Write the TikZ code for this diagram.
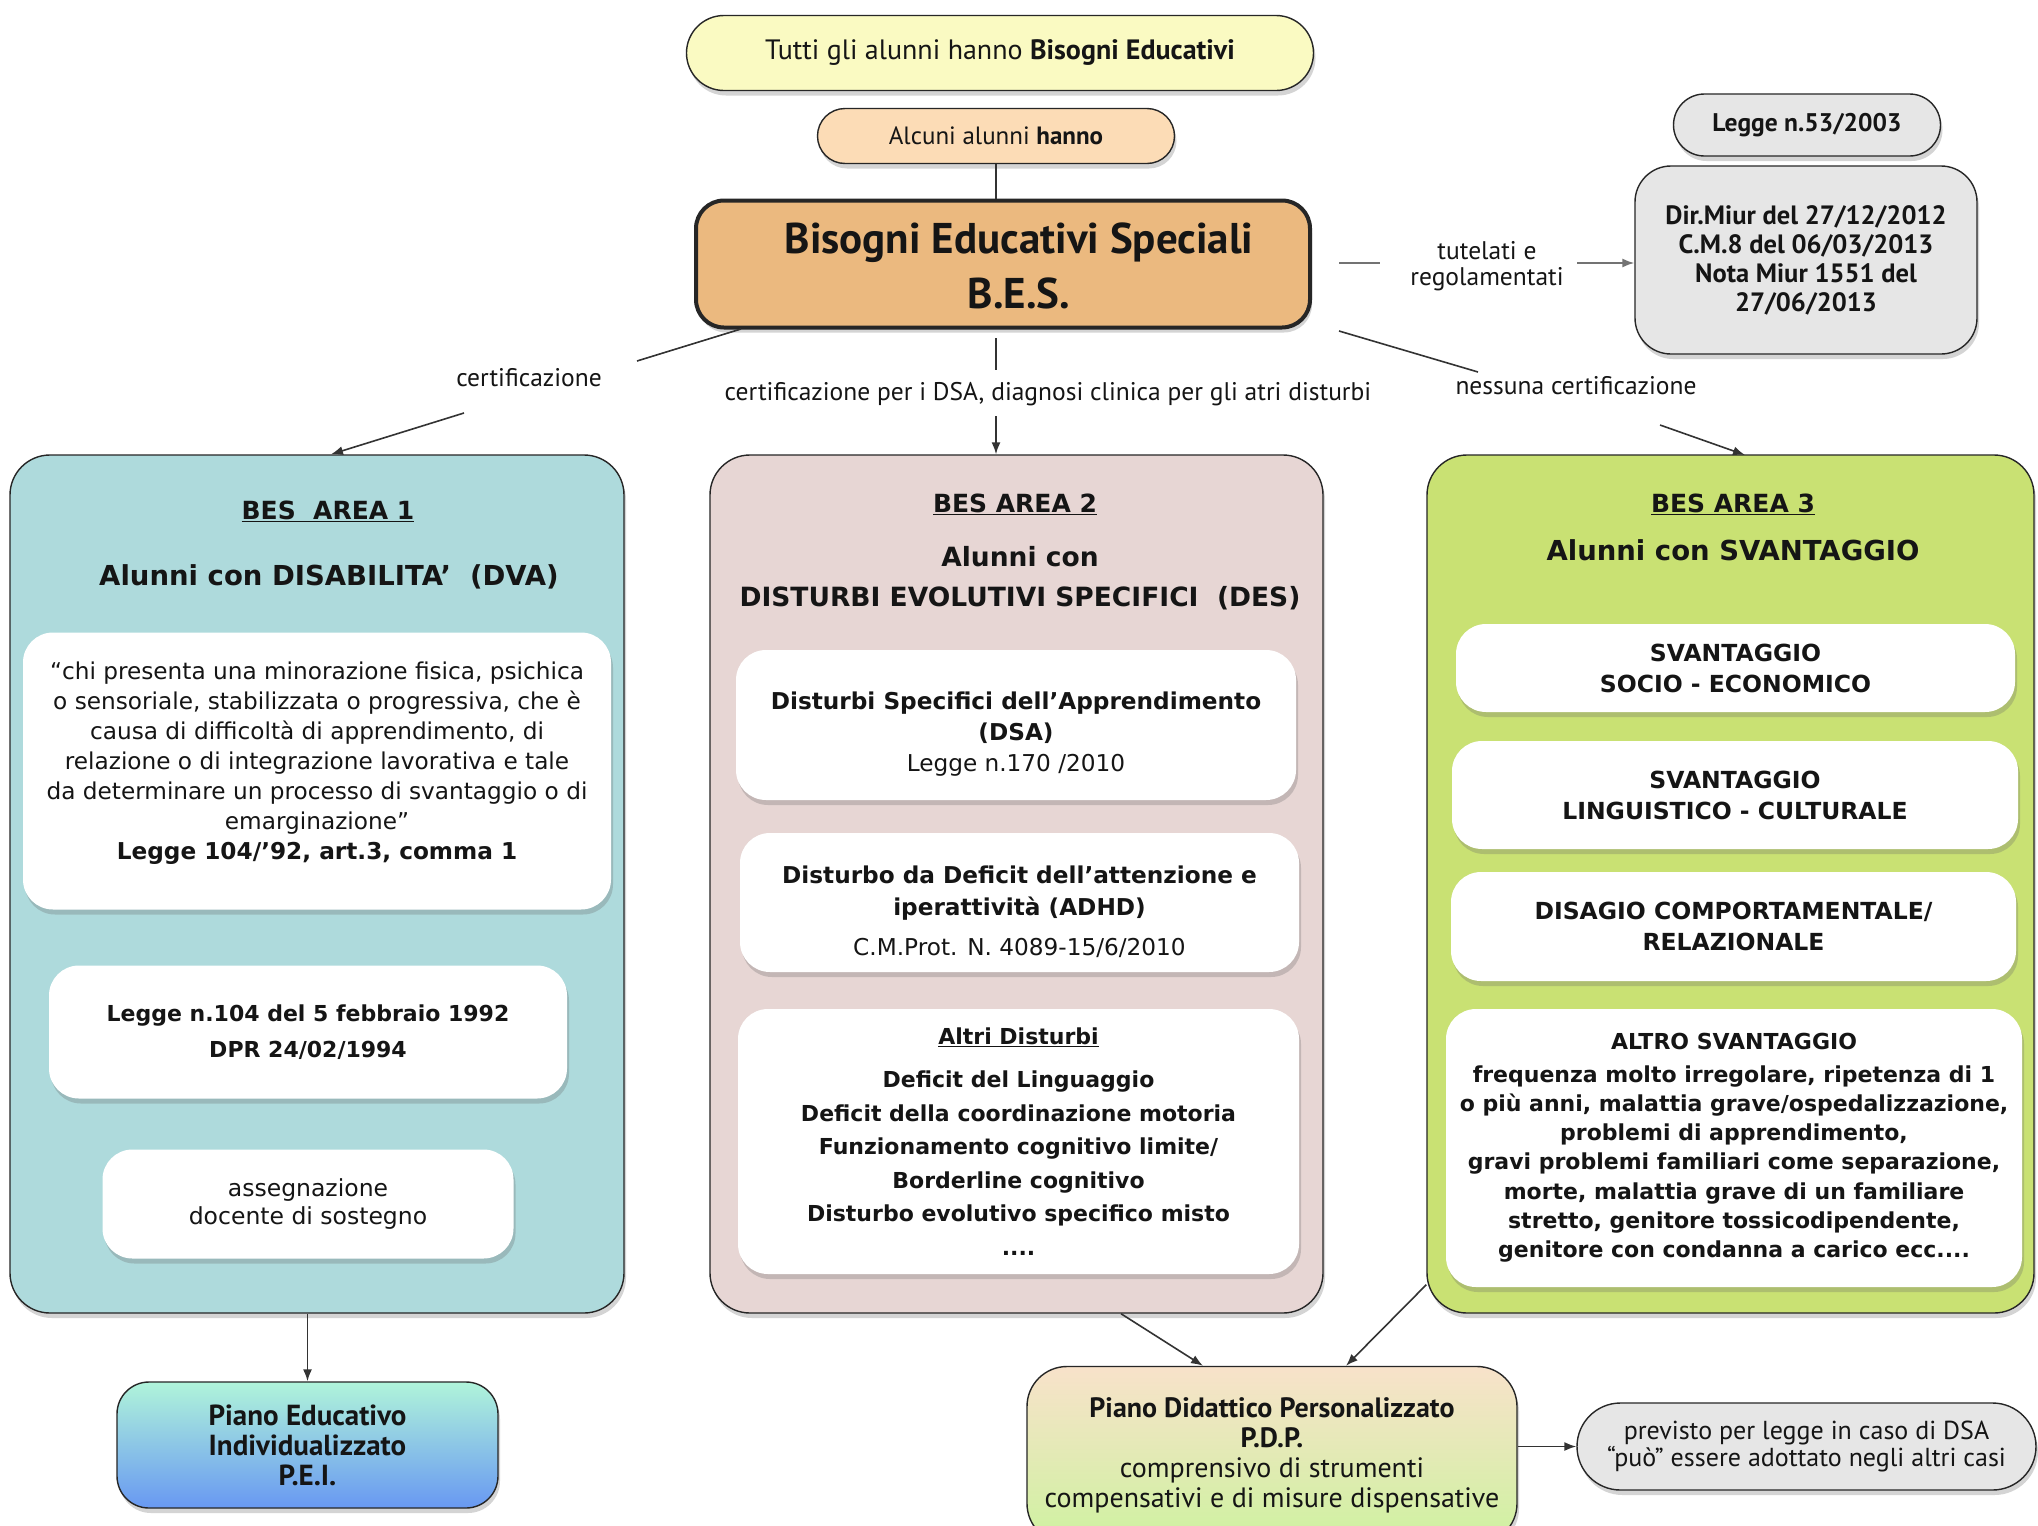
\documentclass[tikz,border=0pt]{standalone}
\usepackage{fontspec}
\setmainfont{DejaVu Sans}
\newfontfamily\cnd{PT Sans}
\usetikzlibrary{shapes.misc,shadows,arrows.meta,calc}
\newcommand{\myfs}[2]{\fontsize{#1}{#2}\selectfont}
\definecolor{cTop}{HTML}{FAFAC2}
\definecolor{cAlc}{HTML}{FCDCB6}
\definecolor{cBes}{HTML}{EBB97F}
\definecolor{cGray}{HTML}{E6E6E6}
\definecolor{cA1}{HTML}{AEDADC}
\definecolor{cA2}{HTML}{E7D6D4}
\definecolor{cA3}{HTML}{C9E173}
\definecolor{cPeiT}{HTML}{B0F4DA}
\definecolor{cPeiB}{HTML}{6898F2}
\definecolor{cPdpT}{HTML}{F8E2CA}
\definecolor{cPdpB}{HTML}{CEF2A0}
\definecolor{cLine}{HTML}{333333}
\definecolor{cTxt}{HTML}{151515}
\begin{document}
\begin{tikzpicture}[x=1pt,y=-1pt,
  every node/.style={text=cTxt},
  shad/.style={drop shadow={shadow xshift=2pt,shadow yshift=-5pt,opacity=0.28,fill=black!60}},
  box/.style={draw=black!85, line width=1.4pt, rounded corners=#1, align=center, inner sep=0pt},
  box/.default=30pt,
  pill/.style={rounded rectangle, draw=black!85, line width=1.4pt, align=center, inner sep=0pt},
  wbox/.style={fill=white, rounded corners=30pt, align=center, inner sep=0pt, shad},
  txt/.style={align=center, inner sep=0pt},
  hd/.style={font=\bfseries\myfs{25}{30}, inner sep=0pt},
  hdd/.style={font=\bfseries\myfs{27.5}{40}, inner sep=0pt, align=center},
  inb/.style={font=\bfseries\myfs{23.5}{31}},
  line/.style={draw=cLine, line width=1.6pt},
  arr/.style={line, -{Latex[length=12pt,width=9pt]}},
  lbl/.style={font=\cnd\myfs{25.5}{26}, align=center, inner sep=0pt}
]
\useasboundingbox (0,0) rectangle (2038,1526);
\fill[white] (0,0) rectangle (2038,1526);

% top
\node[pill, fill=cTop, shad, minimum width=627pt, minimum height=75pt, font=\cnd\myfs{28}{30}] (tutti) at (1000,53) {Tutti gli alunni hanno \textbf{Bisogni Educativi}};
\node[pill, fill=cAlc, shad, minimum width=357pt, minimum height=55pt, font=\cnd\myfs{25}{28}] (alc) at (996,136) {Alcuni alunni \textbf{hanno}};
\node[box=28pt, line width=4pt, fill=cBes, shad, minimum width=614pt, minimum height=127pt] (bes) at (1003,264) {};
\node[font=\cnd\bfseries\myfs{43}{55}, align=center, inner sep=0pt] (bestxt) at (1019,266) {Bisogni Educativi Speciali\\B.E.S.};
\draw[line] (alc.south) -- (alc.south |- bes.north);

% right legal boxes
\node[pill, fill=cGray, shad, minimum width=267pt, minimum height=62pt, font=\cnd\bfseries\myfs{25.5}{28}] (l53) at (1807,125) {Legge n.53/2003};
\node[box=36pt, fill=cGray, shad, minimum width=342pt, minimum height=188pt, font=\cnd\bfseries\myfs{26.5}{29}] (dir) at (1806,260) {Dir.Miur del 27/12/2012\\C.M.8 del 06/03/2013\\Nota Miur 1551 del\\27/06/2013};
\node[lbl] (tut) at (1487,266) {tutelati e\\regolamentati};
\coordinate (t1) at (1339,263);
\coordinate (t2) at (1380,263);
\coordinate (t3) at (1577,263);
\draw[line, draw=black!55] (t1) -- (t2);
\draw[arr, draw=black!55] (t3) -- (t3 -| dir.west);

% areas
\node[box=40pt, fill=cA1, shad, minimum width=614pt, minimum height=858pt] (a1) at (317,884) {};
\node[box=40pt, fill=cA2, shad, minimum width=613pt, minimum height=858pt] (a2) at (1016.5,884) {};
\node[box=40pt, fill=cA3, shad, minimum width=607pt, minimum height=858pt] (a3) at (1730.5,884) {};

% connectors from BES to areas
\node[lbl] (cert1) at (529,378) {certificazione};
\coordinate (c1a) at (741,329);
\coordinate (c1b) at (637,361);
\coordinate (c1c) at (464,413);
\draw[line] (c1a) -- (c1b);
\draw[arr] (c1c) -- ($(a1.north)+(14,0)$);

\node[lbl] (cert2) at (1048,394) {certificazione per i DSA, diagnosi clinica per gli atri disturbi};
\coordinate (c2a) at (996,338);
\coordinate (c2b) at (996,370);
\coordinate (c2c) at (996,416);
\draw[line] (c2a) -- (c2b);
\draw[arr] (c2c) -- (c2c |- a2.north);

\node[lbl] (cert3) at (1576,386) {nessuna certificazione};
\coordinate (c3a) at (1339,331);
\coordinate (c3b) at (1478,372);
\coordinate (c3c) at (1660,425);
\draw[line] (c3a) -- (c3b);
\draw[arr] (c3c) -- (1745,455);

% area 1
\node[hd] (a1t) at (328,511) {\underline{BES\ \ AREA 1}};
\node[hdd] (a1s) at (329,577) {Alunni con DISABILITA’\ \ (DVA)};
\node[wbox, minimum width=588pt, minimum height=277pt] (quote) at (317,771) {};
\node[txt, font=\myfs{23.2}{30}] (quotetxt) at (317,763) {“chi presenta una minorazione fisica, psichica\\o sensoriale, stabilizzata o progressiva, che è\\causa di difficoltà di apprendimento, di\\relazione o di integrazione lavorativa e tale\\da determinare un processo di svantaggio o di\\emarginazione”\\\textbf{Legge 104/’92, art.3, comma 1}};
\node[wbox, minimum width=518pt, minimum height=133pt, font=\bfseries\myfs{22}{36}] (l104) at (308,1032) {Legge n.104 del 5 febbraio 1992\\DPR 24/02/1994};
\node[wbox, minimum width=411pt, minimum height=109pt, font=\myfs{23.5}{28.5}] (ass) at (308,1204) {assegnazione\\docente di sostegno};

% area 2
\node[hd] (a2t) at (1015,504) {\underline{BES AREA 2}};
\node[hdd, font=\bfseries\myfs{26.5}{40}] (a2s) at (1020,578) {Alunni con\\DISTURBI EVOLUTIVI SPECIFICI\ \ (DES)};
\node[wbox, minimum width=560pt, minimum height=150pt] (dsa) at (1016,725) {};
\node[txt, font=\myfs{23.2}{31}] (dsatxt) at (1016,734) {\textbf{Disturbi Specifici dell’Apprendimento}\\\textbf{(DSA)}\\Legge n.170 /2010};
\node[wbox, minimum width=559pt, minimum height=139pt] (adhd) at (1019.5,902.5) {};
\node[txt, font=\myfs{23.2}{32}] (adhdtxt) at (1019.5,912) {\textbf{Disturbo da Deficit dell’attenzione e}\\\textbf{iperattività (ADHD)}\\[8pt]C.M.Prot. N. 4089-15/6/2010};
\node[wbox, minimum width=561pt, minimum height=265pt, font=\bfseries\myfs{22}{33.5}] (altri) at (1018.5,1141.5) {\underline{Altri Disturbi}\\[10pt]Deficit del Linguaggio\\Deficit della coordinazione motoria\\Funzionamento cognitivo limite/\\Borderline cognitivo\\Disturbo evolutivo specifico misto\\....};

% area 3
\node[hd] (a3t) at (1733,504) {\underline{BES AREA 3}};
\node[hdd] (a3s) at (1733,550) {Alunni con SVANTAGGIO};
\node[wbox, minimum width=559pt, minimum height=88pt, inb] (soc) at (1735.5,668) {SVANTAGGIO\\SOCIO - ECONOMICO};
\node[wbox, minimum width=566pt, minimum height=108pt, inb] (ling) at (1735,795) {SVANTAGGIO\\LINGUISTICO - CULTURALE};
\node[wbox, minimum width=565pt, minimum height=109pt, inb] (dis) at (1733.5,926.5) {DISAGIO COMPORTAMENTALE/\\RELAZIONALE};
\node[wbox, minimum width=576pt, minimum height=278pt, font=\bfseries\myfs{22}{29.3}] (altro) at (1734,1148) {ALTRO SVANTAGGIO\\[3pt]frequenza molto irregolare, ripetenza di 1\\o più anni, malattia grave/ospedalizzazione,\\problemi di apprendimento,\\gravi problemi familiari come separazione,\\morte, malattia grave di un familiare\\stretto, genitore tossicodipendente,\\genitore con condanna a carico ecc....};

% bottom
\node[box=32pt, top color=cPeiT, bottom color=cPeiB, shad, minimum width=381pt, minimum height=126pt, font=\cnd\bfseries\myfs{29}{30}] (pei) at (307.5,1445) {Piano Educativo\\Individualizzato\\P.E.I.};
\node[box=40pt, top color=cPdpT, bottom color=cPdpB, shad, minimum width=490pt, minimum height=177pt, font=\cnd\myfs{28}{30}] (pdp) at (1272,1455) {\textbf{Piano Didattico Personalizzato}\\\textbf{P.D.P.}\\comprensivo di strumenti\\compensativi e di misure dispensative};
\node[pill, fill=cGray, shad, minimum width=459pt, minimum height=87pt, font=\cnd\myfs{26}{27}] (prev) at (1806.5,1446.5) {previsto per legge in caso di DSA\\“può” essere adottato negli altri casi};

\draw[arr] (a1.south -| pei.north) -- (pei.north);
\draw[arr] ($(a2.south)+(104.5,0)$) -- ($(pdp.north)+(-69,0)$);
\draw[arr] ($(a3.south west)+(0,-29)$) -- ($(pdp.north)+(74,0)$);
\draw[arr] (prev.west -| pdp.east) -- (prev.west);
\end{tikzpicture}
\end{document}
